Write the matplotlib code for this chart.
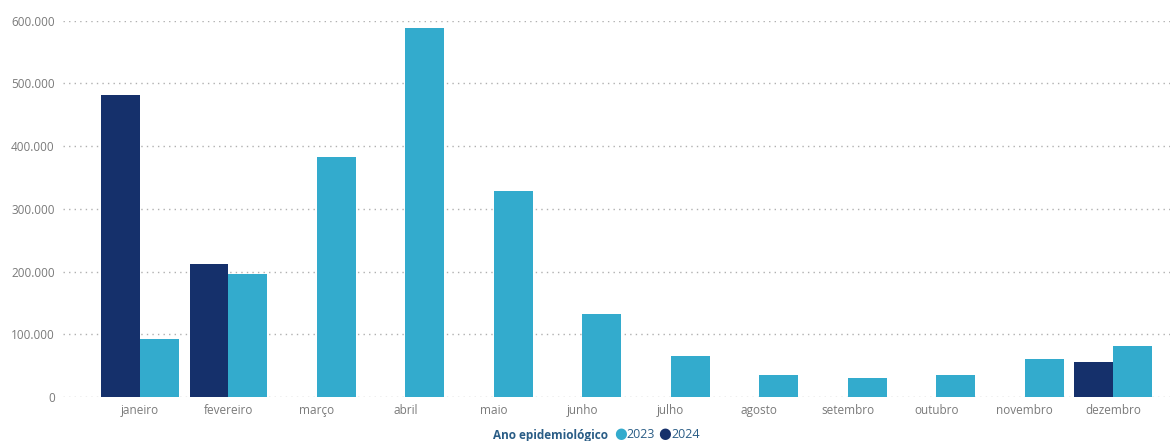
import numpy as np
import matplotlib.pyplot as plt
from matplotlib.ticker import FuncFormatter

# casos por mês, por ano epidemiológico
meses = ['janeiro', 'fevereiro', 'março', 'abril', 'maio', 'junho',
         'julho', 'agosto', 'setembro', 'outubro', 'novembro', 'dezembro']
casos_2023 = [93000, 196000, 382000, 589000, 328000, 132000,
              65000, 35000, 30000, 35000, 60000, 81000]
casos_2024 = [482000, 212000, np.nan, np.nan, np.nan, np.nan,
              np.nan, np.nan, np.nan, np.nan, np.nan, 55000]

cor_2023 = '#33abcd'
cor_2024 = '#15306b'
cinza = '#7a7a7a'
cor_legenda = '#2a5d86'

plt.rcParams['font.family'] = ['Open Sans', 'DejaVu Sans']

W, H = 1176, 441
fig = plt.figure(figsize=(W / 100, H / 100), dpi=100)
ax = fig.add_axes([0.0536, 0.0998, 0.9414, 0.8532])

x = np.arange(len(meses))
w = 0.44
ax.bar(x - w / 2, casos_2024, width=w, color=cor_2024, zorder=3)
ax.bar(x + w / 2, casos_2023, width=w, color=cor_2023, zorder=3)

ax.set_ylim(0, 600000)
ax.set_xlim(-0.87, 11.644)
ax.set_yticks(np.arange(0, 600001, 100000))
ax.yaxis.set_major_formatter(FuncFormatter(lambda v, p: f'{int(v):,}'.replace(',', '.')))
ax.set_xticks(x)
ax.set_xticklabels(meses)
ax.tick_params(axis='both', length=0, colors=cinza, labelsize=8.5)
ax.tick_params(axis='x', pad=5)
ax.tick_params(axis='y', pad=6)
ax.grid(axis='y', linestyle=(0, (1, 3)), color='#b0b0b0', linewidth=1, zorder=0)
for s in ax.spines.values():
    s.set_visible(False)

# legenda no rodapé
yl = 1 - 435 / H
fig.text(608 / W, yl, 'Ano epidemiológico', ha='right', va='center',
         fontsize=8.5, fontweight='bold', color=cor_legenda)
fig.text(620.5 / W, yl, '●', ha='center', va='center', fontsize=10.5, color=cor_2023)
fig.text(626 / W, yl, '2023', ha='left', va='center', fontsize=9, color=cor_legenda)
fig.text(665 / W, yl, '●', ha='center', va='center', fontsize=10.5, color=cor_2024)
fig.text(671 / W, yl, '2024', ha='left', va='center', fontsize=9, color=cor_legenda)

fig.savefig('out.png', dpi=100)
